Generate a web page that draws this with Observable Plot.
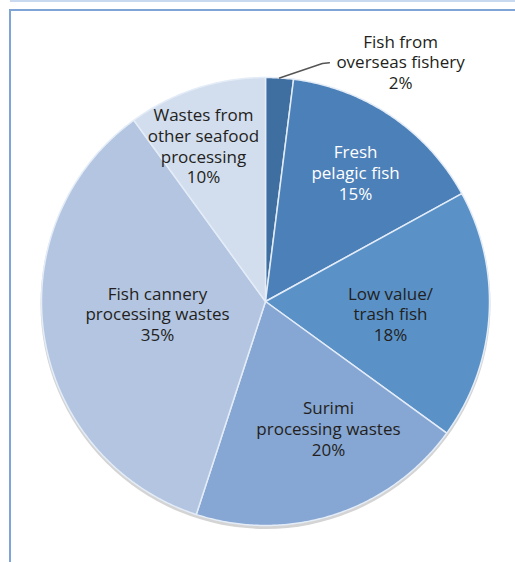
<!DOCTYPE html>
<html><head><meta charset="utf-8">
<script src="https://cdn.jsdelivr.net/npm/d3@7"></script>
<script src="https://cdn.jsdelivr.net/npm/@observablehq/plot@0.6"></script>
<style>
html,body{margin:0;padding:0;background:#fff;}
#wrap{position:relative;width:515px;height:562px;overflow:hidden;}
#band{position:absolute;left:10px;top:0;width:505px;height:2px;background:#c9daf0;}
#frame{position:absolute;left:9px;top:9px;width:506px;height:553px;border-top:2px solid #7ea5d6;border-left:2px solid #7ea5d6;box-sizing:border-box;}
#chart{position:absolute;left:0;top:0;}
</style></head><body>
<div id="wrap"><div id="band"></div><div id="frame"></div><div id="chart"></div></div>
<script>
// ---- data ----
const categories = ["Fish from overseas fishery", "Fresh pelagic fish", "Low value/trash fish",
  "Surimi processing wastes", "Fish cannery processing wastes", "Wastes from other seafood processing"];
const shares = [2, 15, 18, 20, 35, 10];
const labelLines = ["Fish from\noverseas fishery", "Fresh\npelagic fish", "Low value/\ntrash fish",
  "Surimi\nprocessing wastes", "Fish cannery\nprocessing wastes", "Wastes from\nother seafood\nprocessing"];

// ---- styles / layout ----
const sliceColors = ["#3f6fa1", "#4c80b8", "#5a92c8", "#86a6d3", "#b3c5e1", "#d2ddee"];
const textColors = ["#231f20", "#ffffff", "#231f20", "#231f20", "#231f20", "#231f20"];
const labelAnchor = [[0.603, 1.071], [0.402, 0.576], [0.558, -0.054], [0.281, -0.567], [-0.482, -0.054], [-0.277, 0.696]];

const arcs = d3.pie().sort(null).value(d => d)(shares);
const slicePts = [];
arcs.forEach((a, i) => {
  const name = categories[i];
  slicePts.push({name, x: 0, y: 0});
  const n = Math.max(2, Math.ceil((a.endAngle - a.startAngle) / (Math.PI / 360)));
  for (let k = 0; k <= n; k++) {
    const t = a.startAngle + (a.endAngle - a.startAngle) * k / n;
    slicePts.push({name, x: Math.sin(t), y: Math.cos(t)});
  }
});

const labels = categories.map((c, i) => ({
  x: labelAnchor[i][0], y: labelAnchor[i][1],
  text: labelLines[i] + "\n" + shares[i] + "%",
  color: textColors[i]
}));

const mid0 = (arcs[0].startAngle + arcs[0].endAngle) / 2;
const leader = [
  {x: Math.sin(mid0), y: Math.cos(mid0)},
  {x: 0.254, y: 1.0625},
  {x: 0.285, y: 1.066}
];

const chart = Plot.plot({
  width: 515, height: 562, margin: 0,
  x: {domain: [-1, 1], range: [41, 489], axis: null},
  y: {domain: [-1, 1], range: [525, 77], axis: null},
  color: {domain: categories, range: sliceColors},
  style: {background: "transparent", fontFamily: "'Open Sans', sans-serif"},
  marks: [
    Plot.dot([{x: 0, y: 0}], {x: "x", y: "y", r: 225, fill: "#d4d4d4", stroke: "none", dy: 2.5}),
    Plot.line(slicePts, {x: "x", y: "y", z: "name", fill: "name", stroke: "#e3ecf7", strokeWidth: 1.5,
      strokeLinejoin: "round", curve: "linear-closed"}),
    Plot.line(leader, {x: "x", y: "y", stroke: "#555", strokeWidth: 1.5}),
    Plot.text(labels, {x: "x", y: "y", text: "text", fill: "color", fontSize: 17, lineHeight: 1.22})
  ]
});
document.getElementById("chart").appendChild(chart);
</script>
</body></html>
